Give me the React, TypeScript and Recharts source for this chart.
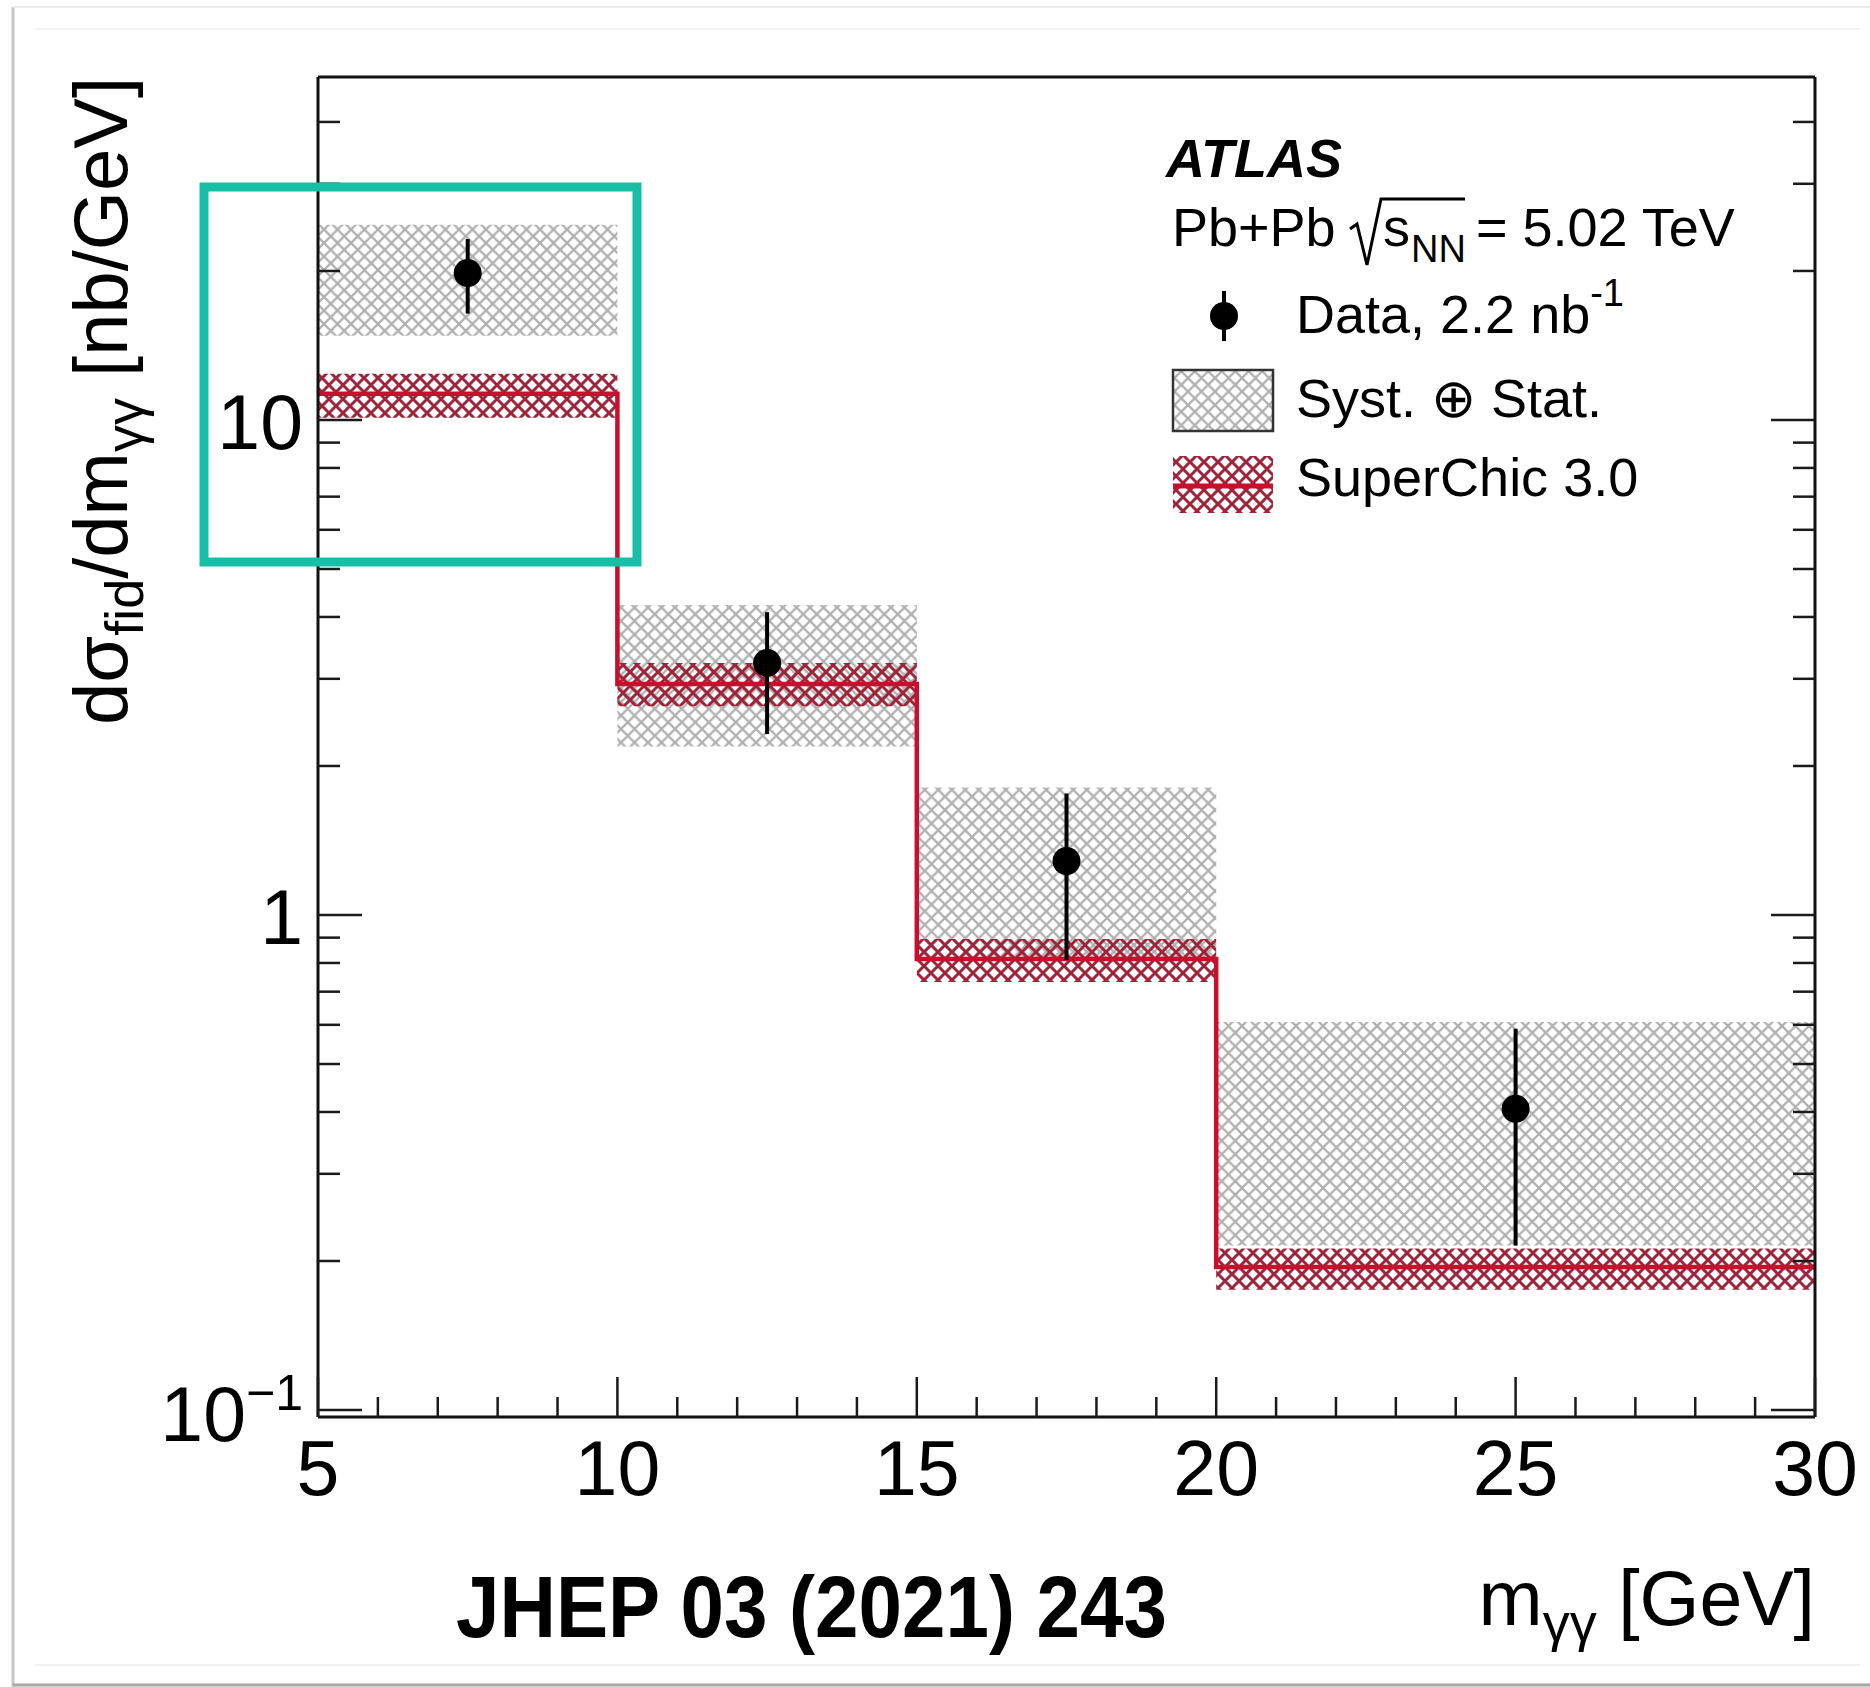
import React from "react";
import {
  ComposedChart,
  XAxis,
  YAxis,
  Line,
  Scatter,
  ErrorBar,
  ReferenceArea,
} from "recharts";

const FONT = "'Liberation Sans', Arial, Helvetica, sans-serif";

// bins in m_yy [GeV]
const binLow = [5, 10, 15, 20];
const binHigh = [10, 15, 20, 30];
const binCenter = [7.5, 12.5, 17.5, 25];

// data, nb/GeV
const dataValue = [19.8, 3.23, 1.285, 0.406];
const dataBarLow = [16.4, 2.32, 0.811, 0.215];
const dataBarHigh = [23.2, 4.09, 1.76, 0.589];
const systLow = [14.8, 2.19, 0.81, 0.215];
const systHigh = [24.8, 4.23, 1.81, 0.608];

// SuperChic 3.0
const theoryValue = [11.3, 2.93, 0.815, 0.1945];
const theoryLow = [10.1, 2.64, 0.732, 0.175];
const theoryHigh = [12.4, 3.23, 0.894, 0.212];

const xTicks = [5, 6, 7, 8, 9, 10, 11, 12, 13, 14, 15, 16, 17, 18, 19, 20, 21, 22, 23, 24, 25, 26, 27, 28, 29, 30];
const xMajor = [5, 10, 15, 20, 25, 30];
const yTicks = [0.1, 0.2, 0.3, 0.4, 0.5, 0.6, 0.7, 0.8, 0.9, 1, 2, 3, 4, 5, 6, 7, 8, 9, 10, 20, 30, 40];
const yMajor = [0.1, 1, 10];
const yDomain = [0.0968, 49.3];

const points = binCenter.map((x, i) => ({
  x,
  y: dataValue[i],
  err: [dataValue[i] - dataBarLow[i], dataBarHigh[i] - dataValue[i]],
}));

const stepLine = [
  ...binLow.map((x, i) => ({ x, y: theoryValue[i] })),
  { x: binHigh[binHigh.length - 1], y: theoryValue[theoryValue.length - 1] },
];

const TICK = "#1a1a1a";

const BottomTick = (p: any) => {
  const major = xMajor.includes(p.payload.value);
  return (
    <g>
      <line x1={p.x} x2={p.x} y1={p.y} y2={p.y - (major ? 40 : 20)} stroke={TICK} strokeWidth={2.5} />
      {major && (
        <text x={p.x} y={p.y + 78} textAnchor="middle" fontSize={77} fontFamily={FONT} fill="#000">
          {p.payload.value}
        </text>
      )}
    </g>
  );
};

const TopTick = (p: any) => {
  const major = xMajor.includes(p.payload.value);
  return <line x1={p.x} x2={p.x} y1={p.y} y2={p.y + (major ? 40 : 20)} stroke={TICK} strokeWidth={2.5} />;
};

const LeftTick = (p: any) => {
  const v = p.payload.value;
  const major = yMajor.includes(v);
  let label: any = null;
  if (v === 0.1) {
    label = (
      <text x={p.x - 15} y={p.y + 31} textAnchor="end" fontSize={77} fontFamily={FONT} fill="#000">
        10<tspan fontSize={50} dy={-31}>−1</tspan>
      </text>
    );
  } else if (major) {
    label = (
      <text x={p.x - 15} y={p.y + 29} textAnchor="end" fontSize={77} fontFamily={FONT} fill="#000">
        {v}
      </text>
    );
  }
  return (
    <g>
      <line x1={p.x} x2={p.x + (major ? 44 : 22)} y1={p.y} y2={p.y} stroke={TICK} strokeWidth={2.5} />
      {label}
    </g>
  );
};

const RightTick = (p: any) => {
  const major = yMajor.includes(p.payload.value);
  return <line x1={p.x} x2={p.x - (major ? 44 : 22)} y1={p.y} y2={p.y} stroke={TICK} strokeWidth={2.5} />;
};

const Dot = (p: any) => <circle cx={p.cx} cy={p.cy} r={14} fill="#000" />;

const frameLine = { stroke: "#111", strokeWidth: 3 };

export default function App() {
  return (
    <div style={{ position: "absolute", left: 0, top: 0, width: 1870, height: 1687, background: "#fff" }}>
      <svg width={0} height={0} style={{ position: "absolute" }}>
        <defs>
          <pattern id="greyHatch" width={13.5} height={13.5} patternUnits="userSpaceOnUse">
            <path d="M0,0 L13.5,13.5 M13.5,0 L0,13.5" stroke="#b0b0b0" strokeWidth={2.3} />
          </pattern>
          <pattern id="redHatch" width={14} height={14} patternUnits="userSpaceOnUse">
            <path d="M0,0 L14,14 M14,0 L0,14" stroke="#9f2339" strokeWidth={3} />
          </pattern>
        </defs>
      </svg>
      <div style={{ position: "absolute", left: 0, top: 0 }}>
        <ComposedChart width={1870} height={1687} margin={{ top: 67, right: 45, bottom: 170, left: 218 }}>
          <XAxis
            dataKey="x"
            type="number"
            domain={[5, 30]}
            ticks={xTicks}
            interval={0}
            tickSize={0}
            tickMargin={0}
            tickLine={false}
            axisLine={frameLine}
            tick={BottomTick}
            height={100}
            allowDataOverflow
          />
          <XAxis
            xAxisId="t"
            orientation="top"
            type="number"
            domain={[5, 30]}
            ticks={xTicks}
            interval={0}
            tickSize={0}
            tickMargin={0}
            tickLine={false}
            axisLine={frameLine}
            tick={TopTick}
            height={10}
            allowDataOverflow
          />
          <YAxis
            type="number"
            scale="log"
            domain={yDomain}
            ticks={yTicks}
            interval={0}
            tickSize={0}
            tickMargin={0}
            tickLine={false}
            axisLine={frameLine}
            tick={LeftTick}
            width={100}
            allowDataOverflow
          />
          <YAxis
            yAxisId="r"
            orientation="right"
            type="number"
            scale="log"
            domain={yDomain}
            ticks={yTicks}
            interval={0}
            tickSize={0}
            tickMargin={0}
            tickLine={false}
            axisLine={frameLine}
            tick={RightTick}
            width={10}
            allowDataOverflow
          />
          {binLow.map((lo, i) => (
            <ReferenceArea
              key={`syst-${i}`}
              x1={lo}
              x2={binHigh[i]}
              y1={systLow[i]}
              y2={systHigh[i]}
              fill="url(#greyHatch)"
              fillOpacity={1}
              stroke="none"
            />
          ))}
          {binLow.map((lo, i) => (
            <ReferenceArea
              key={`theo-${i}`}
              x1={lo}
              x2={binHigh[i]}
              y1={theoryLow[i]}
              y2={theoryHigh[i]}
              fill="url(#redHatch)"
              fillOpacity={1}
              stroke="none"
            />
          ))}
          <Line
            data={stepLine}
            dataKey="y"
            type="stepAfter"
            stroke="#c8102e"
            strokeWidth={4.5}
            dot={false}
            isAnimationActive={false}
          />
          <Scatter data={points} dataKey="y" shape={Dot} isAnimationActive={false}>
            <ErrorBar dataKey="err" direction="y" width={0} stroke="#000" strokeWidth={4} />
          </Scatter>
        </ComposedChart>
      </div>
      <svg
        width={1870}
        height={1687}
        style={{ position: "absolute", left: 0, top: 0, pointerEvents: "none" }}
        fontFamily={FONT}
      >
        {/* screenshot frame */}
        <line x1={13} y1={7} x2={13} y2={1687} stroke="#c4c4c4" strokeWidth={3} />
        <line x1={13} y1={7} x2={1870} y2={7} stroke="#ececec" strokeWidth={2} />
        <line x1={13} y1={1685} x2={1870} y2={1685} stroke="#a8a8a8" strokeWidth={3} />
        <line x1={35} y1={29} x2={1860} y2={29} stroke="#f2f2f2" strokeWidth={2} />
        <line x1={35} y1={1665} x2={1860} y2={1665} stroke="#f2f2f2" strokeWidth={2} />

        {/* axis titles */}
        <text transform="translate(127,77) rotate(-90)" textAnchor="end" fontSize={76} fill="#000">
          dσ<tspan fontSize={54} dy={16}>fid</tspan>
          <tspan dy={-16}>/dm</tspan>
          <tspan fontSize={54} dy={16}>γγ</tspan>
          <tspan dy={-16}> [nb/GeV]</tspan>
        </text>
        <text x={1815} y={1625} textAnchor="end" fontSize={77} fill="#000">
          m<tspan fontSize={54} dy={16}>γγ</tspan>
          <tspan dy={-16}> [GeV]</tspan>
        </text>
        <text x={456} y={1637} fontSize={88} fontWeight="bold" fill="#000" textLength={711} lengthAdjust="spacingAndGlyphs">
          JHEP 03 (2021) 243
        </text>

        {/* legend */}
        <text x={1166} y={177} fontSize={54} fontWeight="bold" fontStyle="italic" fill="#000">ATLAS</text>
        <text x={1172} y={246} fontSize={54} fill="#000">Pb+Pb</text>
        <path d="M1350,229 L1357,224 L1367,265 L1381,199 L1465,199" stroke="#000" strokeWidth={3} fill="none" />
        <text x={1383} y={246} fontSize={54} fill="#000">s</text>
        <text x={1411} y={262} fontSize={38} fill="#000">NN</text>
        <text x={1476} y={246} fontSize={54} fill="#000">= 5.02 TeV</text>

        <line x1={1224} x2={1224} y1={291} y2={341} stroke="#000" strokeWidth={4} />
        <circle cx={1224} cy={316} r={14} fill="#000" />
        <text x={1296} y={333} fontSize={54} fill="#000">
          Data, 2.2 nb<tspan fontSize={38} dy={-27}>-1</tspan>
        </text>

        <rect x={1173} y={370} width={100} height={61} fill="url(#greyHatch)" stroke="#333" strokeWidth={2.5} />
        <text x={1296} y={417} fontSize={54} fill="#000">Syst. ⊕ Stat.</text>

        <rect x={1173} y={456} width={100} height={57} fill="url(#redHatch)" />
        <line x1={1173} x2={1273} y1={486} y2={486} stroke="#c8102e" strokeWidth={5} />
        <text x={1296} y={496} fontSize={54} fill="#000">SuperChic 3.0</text>

        {/* highlight box */}
        <rect x={204} y={187} width={433} height={375} fill="none" stroke="#17bfa7" strokeWidth={9} />
        <rect x={201} y={184} width={438} height={380} fill="none" stroke="#17bfa7" strokeWidth={2} opacity={0.6} />
      </svg>
    </div>
  );
}
